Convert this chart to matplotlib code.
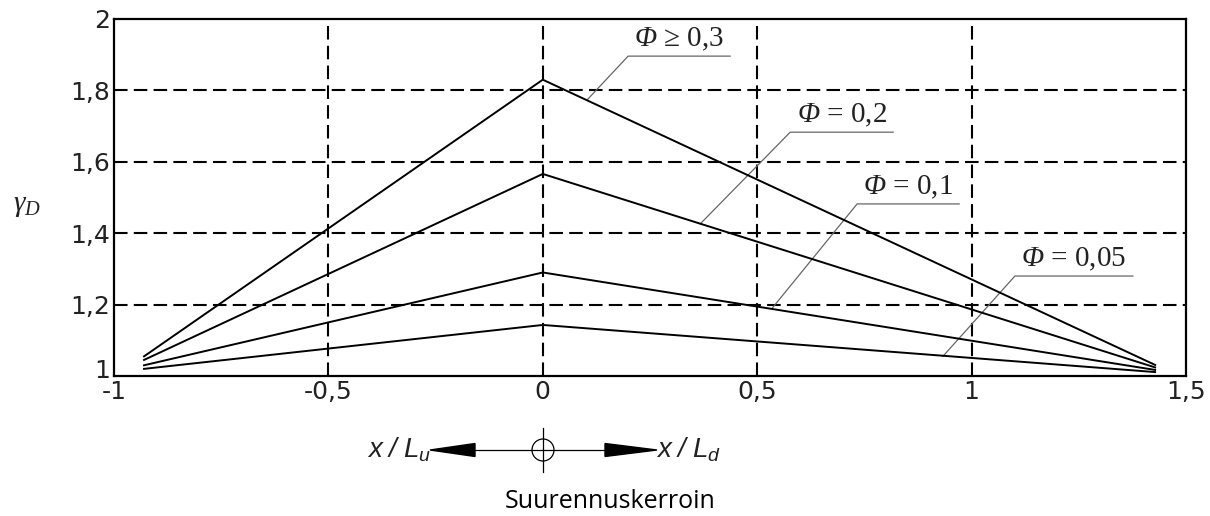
import matplotlib
matplotlib.use("Agg")
import matplotlib.pyplot as plt
from matplotlib.lines import Line2D
from matplotlib.patches import Circle, Polygon
from matplotlib.transforms import IdentityTransform, offset_copy

plt.rcParams["mathtext.fontset"] = "custom"
plt.rcParams["mathtext.rm"] = "Liberation Serif"
plt.rcParams["mathtext.it"] = "Liberation Serif:italic"
plt.rcParams["mathtext.cal"] = "Liberation Serif:italic"
plt.rcParams["mathtext.sf"] = "Liberation Sans:italic"

# Position along the span (upstream negative, downstream positive)
x_pts = [-0.93, 0.0, 1.428]

# Amplification factor curves for each damping level
gamma_03 = [1.055, 1.830, 1.031]
gamma_02 = [1.045, 1.566, 1.024]
gamma_01 = [1.030, 1.290, 1.017]
gamma_005 = [1.020, 1.143, 1.011]

curve_labels = [r"$\mathcal{Φ}$ ≥ 0,3", r"$\mathcal{Φ}$ = 0,2",
                r"$\mathcal{Φ}$ = 0,1", r"$\mathcal{Φ}$ = 0,05"]

x_ticks = [-1, -0.5, 0, 0.5, 1, 1.5]
x_ticklabels = ["-1", "-0,5", "0", "0,5", "1", "1,5"]
y_ticks = [1, 1.2, 1.4, 1.6, 1.8, 2]
y_ticklabels = ["1", "1,2", "1,4", "1,6", "1,8", "2"]

W, H = 1210, 516
fig = plt.figure(figsize=(W / 100, H / 100), dpi=100)
ax = fig.add_axes([114 / W, 1 - 376 / H, (1186 - 114) / W, (376 - 19) / H])

ax.set_xlim(-1, 1.5)
ax.set_ylim(1, 2)

# dashed grid at interior ticks
for gx in [-0.5, 0, 0.5, 1]:
    ax.axvline(gx, color="black", lw=1.5, ls=(0, (6.5, 3)), zorder=1)
for gy in [1.2, 1.4, 1.6, 1.8]:
    ax.axhline(gy, color="black", lw=1.5, ls=(0, (6.5, 3)), zorder=1)

for series in [gamma_03, gamma_02, gamma_01, gamma_005]:
    ax.plot(x_pts, series, color="black", lw=1.4, zorder=3)

# leader lines: (point on curve, start of underline, end of underline)
leaders = [
    ((0.103, 1.773), (0.199, 1.896), (0.437, 1.896)),
    ((0.367, 1.426), (0.577, 1.683), (0.817, 1.683)),
    ((0.535, 1.190), (0.733, 1.482), (0.971, 1.482)),
    ((0.933, 1.055), (1.101, 1.280), (1.376, 1.280)),
]
for lab, (p0, p1, p2) in zip(curve_labels, leaders):
    ax.plot([p0[0], p1[0], p2[0]], [p0[1], p1[1], p2[1]],
            color="#666666", lw=0.9, zorder=2)
    ax.text((p1[0] + p2[0]) / 2, p1[1] + 0.008, lab, ha="center", va="bottom",
            fontsize=21, family="Liberation Serif", color="#222222", zorder=4)

ax.set_xticks(x_ticks)
ax.set_xticklabels(x_ticklabels)
ax.set_yticks(y_ticks)
ax.set_yticklabels(y_ticklabels)
ax.tick_params(length=0, labelsize=18, pad=3)
for t in ax.get_xticklabels() + ax.get_yticklabels():
    t.set_family("DejaVu Sans")
    t.set_color("#222222")
# lift the lowest y label a little so it clears the "-1" below it
ylab0 = ax.get_yticklabels()[0]
ylab0.set_transform(offset_copy(ylab0.get_transform(), fig=fig, y=7, units="dots"))
for s in ax.spines.values():
    s.set_linewidth(1.6)

fig.text(27 / W, 1 - 205 / H, r"$\gamma_D$", fontsize=21, ha="center", va="center",
         color="#222222")


def fx(x):
    return x / W


def fy(y):
    return 1 - y / H


# direction sketch below the axis
yc = 450
fig.add_artist(Line2D([fx(473), fx(607)], [fy(yc), fy(yc)], color="black", lw=0.9,
                      transform=fig.transFigure))
fig.add_artist(Line2D([fx(543), fx(543)], [fy(428), fy(472)], color="black", lw=0.9,
                      transform=fig.transFigure))
fig.add_artist(Polygon([[fx(430), fy(yc)], [fx(475), fy(yc - 6.5)], [fx(475), fy(yc + 6.5)]],
                       closed=True, color="black", transform=fig.transFigure))
fig.add_artist(Polygon([[fx(657), fy(yc)], [fx(605), fy(yc - 6.5)], [fx(605), fy(yc + 6.5)]],
                       closed=True, color="black", transform=fig.transFigure))
circ = Circle((543, H - yc), 11, fill=False, ec="black", lw=0.9)
fig.add_artist(circ)
circ.set_transform(IdentityTransform())

fig.text(fx(431), fy(yc), r"$\mathsf{x\ /\ L_u}$", fontsize=20, ha="right", va="center",
         color="#222222")
fig.text(fx(656), fy(yc), r"$\mathsf{x\ /\ L_d}$", fontsize=20, ha="left", va="center",
         color="#222222")

fig.text(fx(610), fy(502), "Suurennuskerroin", fontsize=18, family="Open Sans",
         ha="center", va="center", color="black")

fig.savefig("out.png", dpi=100)
